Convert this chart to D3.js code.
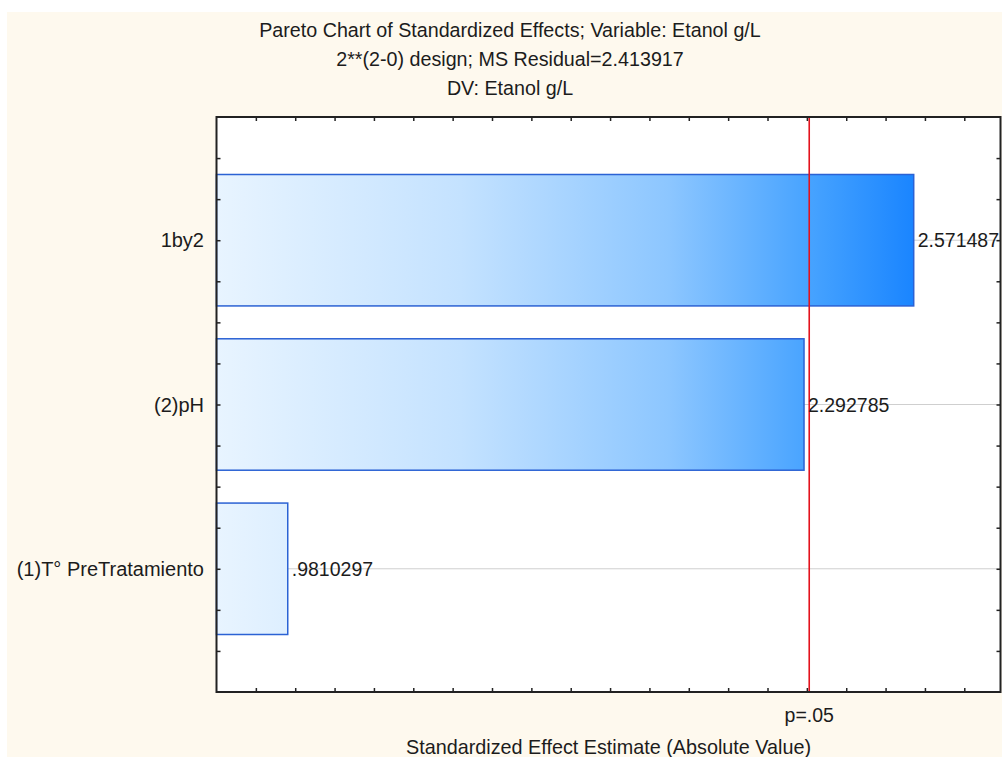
<!DOCTYPE html>
<html>
<head>
<meta charset="utf-8">
<script src="https://cdn.jsdelivr.net/npm/d3@7"></script>
<style>
  body { margin: 0; background: #ffffff; }
  svg text { font-family: "Liberation Sans", Arial, sans-serif; fill: #1c1c1c; }
</style>
</head>
<body>
<svg id="chart" width="1002" height="757"></svg>
<script>
// Effects, top to bottom
const categories = ["1by2", "(2)pH", "(1)T° PreTratamiento"];
const effects = [2.571487, 2.292785, 0.9810297];
const effectLabels = ["2.571487", "2.292785", ".9810297"];

// Significance threshold (t critical, p = .05)
const criticalValue = 2.306004;
const criticalLabel = "p=.05";

const titleLines = [
  "Pareto Chart of Standardized Effects; Variable: Etanol g/L",
  "2**(2-0) design; MS Residual=2.413917",
  "DV: Etanol g/L"
];
const xTitle = "Standardized Effect Estimate (Absolute Value)";

// Axis extents and tick positions
const xDomain = [0.8, 2.792];
const xTickValues = d3.range(9, 28).map(d => d / 10);
const yDomain = [0.25, 3.75];
const yTickValues = d3.range(2, 15).map(d => d / 4);

const svg = d3.select("#chart");
const plot = { left: 216.5, right: 1000.5, top: 117, bottom: 692 };

// Cream panel behind everything
svg.append("rect")
  .attr("x", 7).attr("y", 12)
  .attr("width", 1002 - 7).attr("height", 757 - 12)
  .attr("fill", "#fef9ee");

const x = d3.scaleLinear().domain(xDomain).range([plot.left, plot.right]);
const y = d3.scaleLinear().domain(yDomain).range([plot.top, plot.bottom]);
const barHalf = 0.4;

// White plotting area
svg.append("rect")
  .attr("x", plot.left).attr("y", plot.top)
  .attr("width", plot.right - plot.left).attr("height", plot.bottom - plot.top)
  .attr("fill", "#ffffff");

// Bar fill gradient spanning the plot horizontally
const defs = svg.append("defs");
const grad = defs.append("linearGradient")
  .attr("id", "barFill")
  .attr("gradientUnits", "userSpaceOnUse")
  .attr("x1", x(xDomain[0])).attr("x2", x(d3.max(effects)))
  .attr("y1", 0).attr("y2", 0);
[
  [0, "#e8f4ff"],
  [0.35, "#c4e2ff"],
  [0.65, "#8cc6ff"],
  [0.85, "#47a3ff"],
  [1, "#1a85ff"]
].forEach(([o, c]) => grad.append("stop").attr("offset", o).attr("stop-color", c));

// Horizontal reference lines at each effect
svg.append("g")
  .selectAll("line")
  .data(categories)
  .join("line")
  .attr("x1", plot.left).attr("x2", plot.right)
  .attr("y1", (d, i) => y(i + 1)).attr("y2", (d, i) => y(i + 1))
  .attr("stroke", "#cfcfcf").attr("stroke-width", 1);

// Bars
svg.append("g")
  .selectAll("rect")
  .data(effects)
  .join("rect")
  .attr("x", x(xDomain[0]))
  .attr("y", (d, i) => y(i + 1 - barHalf))
  .attr("width", d => x(d) - x(xDomain[0]))
  .attr("height", y(1 + barHalf) - y(1 - barHalf))
  .attr("fill", "url(#barFill)")
  .attr("stroke", "#2b62d4")
  .attr("stroke-width", 1.5);

// Critical value line
svg.append("line")
  .attr("x1", x(criticalValue)).attr("x2", x(criticalValue))
  .attr("y1", plot.top).attr("y2", plot.bottom)
  .attr("stroke", "#e3121c").attr("stroke-width", 1.6);

// Value labels
svg.append("g")
  .selectAll("text")
  .data(effects)
  .join("text")
  .attr("x", d => x(d) + 4)
  .attr("y", (d, i) => y(i + 1))
  .attr("dy", "0.36em")
  .attr("font-size", 19.5)
  .text((d, i) => effectLabels[i]);

// Category labels
svg.append("g")
  .selectAll("text")
  .data(categories)
  .join("text")
  .attr("x", 204)
  .attr("y", (d, i) => y(i + 1))
  .attr("dy", "0.36em")
  .attr("text-anchor", "end")
  .attr("font-size", 20)
  .text(d => d);

// Inward ticks on all four sides
const tickStyle = g => {
  g.select(".domain").remove();
  g.selectAll(".tick line").attr("stroke", "#222").attr("stroke-width", 1.5);
  g.selectAll(".tick text").remove();
};
svg.append("g").attr("transform", `translate(0,${plot.top})`)
  .call(d3.axisTop(x).tickValues(xTickValues).tickSize(-4)).call(tickStyle);
svg.append("g").attr("transform", `translate(0,${plot.bottom})`)
  .call(d3.axisBottom(x).tickValues(xTickValues).tickSize(-4)).call(tickStyle);
svg.append("g").attr("transform", `translate(${plot.left},0)`)
  .call(d3.axisLeft(y).tickValues(yTickValues).tickSize(-4)).call(tickStyle);
svg.append("g").attr("transform", `translate(${plot.right},0)`)
  .call(d3.axisRight(y).tickValues(yTickValues).tickSize(-4)).call(tickStyle);

// Plot frame
svg.append("rect")
  .attr("x", plot.left).attr("y", plot.top)
  .attr("width", plot.right - plot.left).attr("height", plot.bottom - plot.top)
  .attr("fill", "none").attr("stroke", "#222").attr("stroke-width", 2);

// Critical value label under the axis
svg.append("text")
  .attr("x", x(criticalValue))
  .attr("y", 722)
  .attr("text-anchor", "middle")
  .attr("font-size", 19.5)
  .text(criticalLabel);

// Axis title
svg.append("text")
  .attr("x", (plot.left + plot.right) / 2)
  .attr("y", 754)
  .attr("text-anchor", "middle")
  .attr("font-size", 19.8)
  .text(xTitle);

// Chart title
svg.append("g")
  .selectAll("text")
  .data(titleLines)
  .join("text")
  .attr("x", 510)
  .attr("y", (d, i) => 37 + i * 29)
  .attr("text-anchor", "middle")
  .attr("font-size", 19.7)
  .text(d => d);
</script>
</body>
</html>
